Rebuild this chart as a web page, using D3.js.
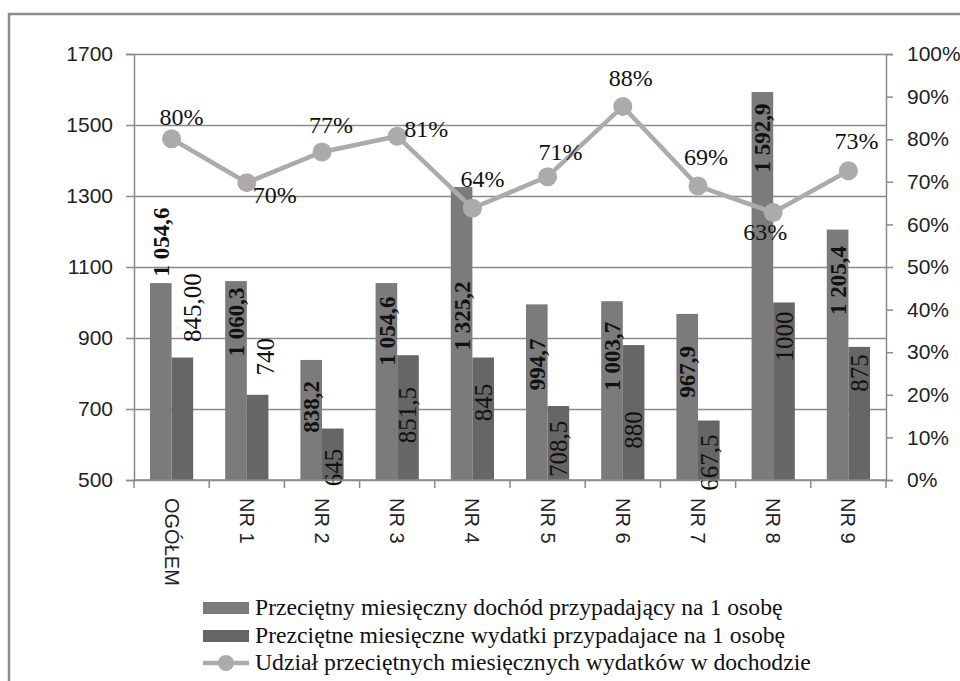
<!DOCTYPE html>
<html>
<head>
<meta charset="utf-8">
<script src="https://cdn.jsdelivr.net/npm/d3@7"></script>
<style>
  body { margin: 0; background: #fff; }
  svg { display: block; }
  .tick text { fill: #222; }
</style>
</head>
<body>
<svg id="chart" width="960" height="681"></svg>
<script>
// data
var categories = ["OGÓŁEM", "NR 1", "NR 2", "NR 3", "NR 4", "NR 5", "NR 6", "NR 7", "NR 8", "NR 9"];
var income = [1054.6, 1060.3, 838.2, 1054.6, 1325.2, 994.7, 1003.7, 967.9, 1592.9, 1205.4];
var incomeLabels = ["1 054,6", "1 060,3", "838,2", "1 054,6", "1 325,2", "994,7", "1 003,7", "967,9", "1 592,9", "1 205,4"];
var expense = [845, 740, 645, 851.5, 845, 708.5, 880, 667.5, 1000, 875];
var expenseLabels = ["845,00", "740", "645", "851,5", "845", "708,5", "880", "667,5", "1000", "875"];
var share = [0.801, 0.698, 0.770, 0.807, 0.638, 0.712, 0.877, 0.690, 0.628, 0.726];
var shareLabels = ["80%", "70%", "77%", "81%", "64%", "71%", "88%", "69%", "63%", "73%"];
var leftTicks = [500, 700, 900, 1100, 1300, 1500, 1700];
var rightTicks = [0, 0.1, 0.2, 0.3, 0.4, 0.5, 0.6, 0.7, 0.8, 0.9, 1];
var legendNames = [
  "Przeciętny miesięczny dochód przypadający na 1 osobę",
  "Prezciętne miesięczne wydatki przypadajace na 1 osobę",
  "Udział przeciętnych miesięcznych wydatków w dochodzie"
];

// label nudges (px): [dx, offset of label centre from bar top]
var incomeLabelNudge = [[0, -41], [0, 41], [0, 47], [1, 48], [0, 129], [0, 60], [0, 55], [0, 58], [0, 46], [0, 51]];
var expenseLabelNudge = [[10, -50], [8, -38], [0, 39], [-1, 60], [0, 45], [0, 43], [0, 85], [0, 42], [0, 34], [0, 26]];
// [dx, dy to baseline] for the percentage labels
var shareLabelNudge = [[10, -14], [28, 20], [9, -19], [29, 1], [10, -21], [13, -17], [8, -20], [8, -21], [-8, 28], [8, -22]];

function drawChart() {
  var svg = d3.select("#chart");

  var plotLeft = 134, plotRight = 886, plotTop = 54, plotBottom = 480;
  var incomeColor = "#7b7b7b", expenseColor = "#666666", lineColor = "#ababab", gridColor = "#8a8a8a";
  var sans = "Liberation Sans, Arial, sans-serif", serif = "Liberation Serif, Times New Roman, serif";

  // outer frame
  svg.append("rect")
    .attr("x", 9).attr("y", 14)
    .attr("width", 1000).attr("height", 800)
    .attr("fill", "none")
    .attr("stroke", "#8a8a8a")
    .attr("stroke-width", 2.5);

  var x = d3.scaleBand().domain(categories).range([plotLeft, plotRight]);
  var xs = d3.scaleBand().domain(["income", "expense"])
    .range([16, x.bandwidth() - 16]);
  var y = d3.scaleLinear().domain([500, 1700]).range([plotBottom, plotTop]);
  var yp = d3.scaleLinear().domain([0, 1]).range([plotBottom, plotTop]);

  // gridlines
  svg.append("g")
    .attr("transform", "translate(" + plotLeft + ",0)")
    .call(d3.axisLeft(y).tickValues(leftTicks).tickSize(-(plotRight - plotLeft)).tickFormat(""))
    .call(function (g) {
      g.select(".domain").remove();
      g.selectAll("line").attr("stroke", gridColor).attr("stroke-width", 1.5);
    });

  // left axis
  svg.append("g")
    .attr("transform", "translate(" + plotLeft + ",0)")
    .call(d3.axisLeft(y).tickValues(leftTicks).tickSize(8).tickPadding(13).tickFormat(d3.format("d")))
    .call(function (g) {
      g.select(".domain").attr("stroke", gridColor).attr("stroke-width", 1.5);
      g.selectAll("line").attr("stroke", gridColor).attr("stroke-width", 1.5);
      g.selectAll("text").attr("font-family", sans).attr("font-size", 21);
    });

  // right axis
  svg.append("g")
    .attr("transform", "translate(" + plotRight + ",0)")
    .call(d3.axisRight(yp).tickValues(rightTicks).tickSize(7).tickPadding(14).tickFormat(d3.format(".0%")))
    .call(function (g) {
      g.select(".domain").attr("stroke", gridColor).attr("stroke-width", 1.5);
      g.selectAll("line").attr("stroke", gridColor).attr("stroke-width", 1.5);
      g.selectAll("text").attr("font-family", sans).attr("font-size", 21);
    });

  // bars
  var groups = svg.append("g").selectAll("g")
    .data(categories)
    .enter().append("g")
    .attr("transform", function (d) { return "translate(" + x(d) + ",0)"; });

  groups.append("rect")
    .attr("x", xs("income"))
    .attr("y", function (d, i) { return y(income[i]); })
    .attr("width", xs.bandwidth())
    .attr("height", function (d, i) { return plotBottom - y(income[i]); })
    .attr("fill", incomeColor);

  groups.append("rect")
    .attr("x", xs("expense"))
    .attr("y", function (d, i) { return y(expense[i]); })
    .attr("width", xs.bandwidth())
    .attr("height", function (d, i) { return plotBottom - y(expense[i]); })
    .attr("fill", expenseColor);

  // bottom axis, ticks on the category boundaries
  svg.append("line")
    .attr("x1", plotLeft).attr("x2", plotRight)
    .attr("y1", plotBottom).attr("y2", plotBottom)
    .attr("stroke", gridColor).attr("stroke-width", 1.5);

  svg.append("g").selectAll("line")
    .data(categories.concat(["end"]))
    .enter().append("line")
    .attr("x1", function (d, i) { return plotLeft + i * x.step(); })
    .attr("x2", function (d, i) { return plotLeft + i * x.step(); })
    .attr("y1", plotBottom).attr("y2", plotBottom + 8)
    .attr("stroke", gridColor).attr("stroke-width", 1.5);

  // category labels, rotated to read downwards
  svg.append("g").selectAll("text")
    .data(categories)
    .enter().append("text")
    .attr("transform", function (d) {
      return "translate(" + (x(d) + x.bandwidth() / 2) + "," + (plotBottom + 18) + ") rotate(90)";
    })
    .attr("dy", "0.35em")
    .attr("font-family", sans)
    .attr("font-size", 20)
    .attr("fill", "#222")
    .text(function (d) { return d; });

  // bar value labels
  groups.append("text")
    .attr("transform", function (d, i) {
      var cx = xs("income") + xs.bandwidth() / 2 + incomeLabelNudge[i][0];
      var cy = y(income[i]) + incomeLabelNudge[i][1];
      return "translate(" + cx + "," + cy + ") rotate(-90)";
    })
    .attr("text-anchor", "middle")
    .attr("dy", "0.35em")
    .attr("font-family", serif)
    .attr("font-weight", "bold")
    .attr("font-size", 23)
    .attr("fill", "#111")
    .text(function (d, i) { return incomeLabels[i]; });

  groups.append("text")
    .attr("transform", function (d, i) {
      var cx = xs("expense") + xs.bandwidth() / 2 + expenseLabelNudge[i][0];
      var cy = y(expense[i]) + expenseLabelNudge[i][1];
      return "translate(" + cx + "," + cy + ") rotate(-90)";
    })
    .attr("text-anchor", "middle")
    .attr("dy", "0.35em")
    .attr("font-family", serif)
    .attr("font-size", 25)
    .attr("fill", "#111")
    .text(function (d, i) { return expenseLabels[i]; });

  // share line on the right axis
  var line = d3.line()
    .x(function (d, i) { return x(categories[i]) + x.bandwidth() / 2; })
    .y(function (d) { return yp(d); });

  svg.append("path")
    .datum(share)
    .attr("d", line)
    .attr("fill", "none")
    .attr("stroke", lineColor)
    .attr("stroke-width", 4.5);

  svg.append("g").selectAll("circle")
    .data(share)
    .enter().append("circle")
    .attr("cx", function (d, i) { return x(categories[i]) + x.bandwidth() / 2; })
    .attr("cy", function (d) { return yp(d); })
    .attr("r", 9.5)
    .attr("fill", lineColor);

  svg.append("g").selectAll("text")
    .data(share)
    .enter().append("text")
    .attr("x", function (d, i) { return x(categories[i]) + x.bandwidth() / 2 + shareLabelNudge[i][0]; })
    .attr("y", function (d, i) { return yp(d) + shareLabelNudge[i][1]; })
    .attr("text-anchor", "middle")
    .attr("font-family", serif)
    .attr("font-size", 24)
    .attr("fill", "#111")
    .text(function (d, i) { return shareLabels[i]; });

  // legend
  var legendRows = [608, 636, 663];
  var legend = svg.append("g").selectAll("g")
    .data(legendNames)
    .enter().append("g")
    .attr("transform", function (d, i) { return "translate(203," + legendRows[i] + ")"; });

  legend.each(function (d, i) {
    var g = d3.select(this);
    if (i < 2) {
      g.append("rect")
        .attr("x", 0).attr("y", -6)
        .attr("width", 46).attr("height", 12)
        .attr("fill", i === 0 ? incomeColor : expenseColor);
    } else {
      g.append("line")
        .attr("x1", 0).attr("x2", 46)
        .attr("stroke", lineColor).attr("stroke-width", 4.5);
      g.append("circle")
        .attr("cx", 23).attr("r", 8)
        .attr("fill", lineColor);
    }
    g.append("text")
      .attr("x", 52)
      .attr("y", 7)
      .attr("font-family", serif)
      .attr("font-size", 23.7)
      .attr("fill", "#111")
      .text(d);
  });
}

drawChart();
</script>
</body>
</html>
